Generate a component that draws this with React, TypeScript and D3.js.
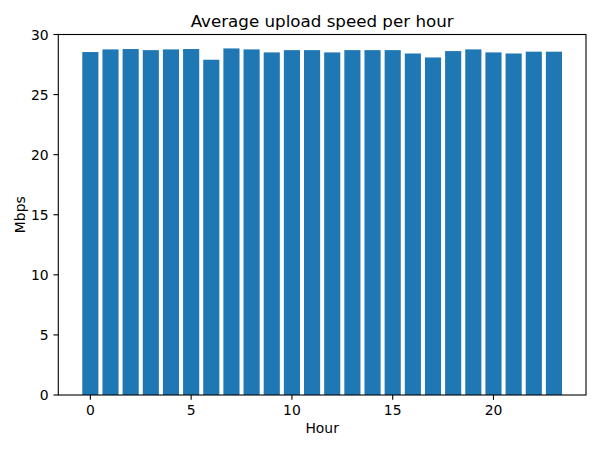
import React from "react";
import * as d3 from "d3";

const hours: number[] = Array.from({ length: 24 }, (_, i) => i);
const speeds: number[] = [
  28.54, 28.76, 28.79, 28.7, 28.76, 28.79, 27.9, 28.84, 28.76, 28.51, 28.7, 28.7,
  28.51, 28.7, 28.7, 28.7, 28.42, 28.09, 28.62, 28.76, 28.51, 28.42, 28.57, 28.57,
];
const xTicks: number[] = [0, 5, 10, 15, 20];
const yTicks: number[] = [0, 5, 10, 15, 20, 25, 30];

const W = 600;
const H = 450;
const left = 58.3;
const right = 586;
const top = 34.5;
const bottom = 395;
const font = "DejaVu Sans, sans-serif";

export default function App() {
  const x = d3.scaleLinear().domain([-1.59, 24.59]).range([left, right]);
  const y = d3.scaleLinear().domain([0, 30]).range([bottom, top]);
  const bw = x(0.8) - x(0);
  const tl = 4.86;
  const pad = 4.86;
  return (
    <div style={{ position: "absolute", left: 0, top: 0 }}>
      <svg width={W} height={H} style={{ display: "block", background: "#fff" }}>
        <g>
          {speeds.map((v, i) => (
            <rect
              key={i}
              x={x(hours[i] - 0.4)}
              y={y(v)}
              width={bw}
              height={y(0) - y(v)}
              fill="#1f77b4"
            />
          ))}
        </g>
        <rect
          x={left}
          y={top}
          width={right - left}
          height={bottom - top}
          fill="none"
          stroke="#000"
          strokeWidth={1.1}
        />
        {xTicks.map((t) => (
          <g key={"x" + t}>
            <line x1={x(t)} x2={x(t)} y1={bottom} y2={bottom + tl} stroke="#000" strokeWidth={1.1} />
            <text
              x={x(t)}
              y={bottom + tl + pad + 10.5}
              textAnchor="middle"
              fontFamily={font}
              fontSize={13.9}
              fill="#000"
            >
              {t}
            </text>
          </g>
        ))}
        {yTicks.map((t) => (
          <g key={"y" + t}>
            <line x1={left - tl} x2={left} y1={y(t)} y2={y(t)} stroke="#000" strokeWidth={1.1} />
            <text
              x={left - tl - pad}
              y={y(t) + 5}
              textAnchor="end"
              fontFamily={font}
              fontSize={13.9}
              fill="#000"
            >
              {t}
            </text>
          </g>
        ))}
        <text x={(left + right) / 2} y={27} textAnchor="middle" fontFamily={font} fontSize={16.7} fill="#000">
          Average upload speed per hour
        </text>
        <text x={(left + right) / 2} y={433} textAnchor="middle" fontFamily={font} fontSize={13.9} fill="#000">
          Hour
        </text>
        <text
          transform={`translate(25, ${(top + bottom) / 2}) rotate(-90)`}
          textAnchor="middle"
          fontFamily={font}
          fontSize={13.9}
          fill="#000"
        >
          Mbps
        </text>
      </svg>
    </div>
  );
}
